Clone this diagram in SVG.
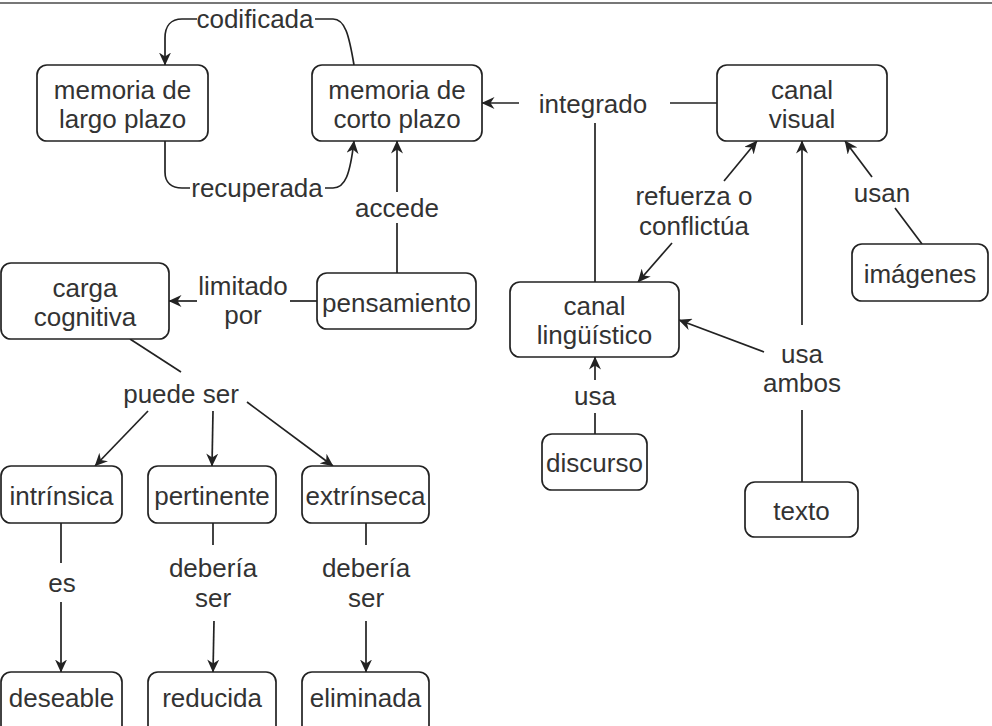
<svg xmlns="http://www.w3.org/2000/svg" width="992" height="726" viewBox="0 0 992 726">
<style>
.n rect{fill:#fff;stroke:#222;stroke-width:1.7}
text{font-family:"Liberation Sans",Arial,sans-serif;font-size:26px;fill:#333;text-anchor:middle}
.c path{fill:none;stroke:#222;stroke-width:1.7}
.c path.a{marker-end:url(#ah)}
</style>
<defs>
<marker id="ah" markerUnits="userSpaceOnUse" viewBox="0 0 13 12" refX="12.5" refY="6" markerWidth="13" markerHeight="12" orient="auto">
<path d="M0,0 L13,6 L0,12 L4,6 Z" fill="#222"/>
</marker>
</defs>
<rect x="0" y="2" width="992" height="2" fill="#777"/>
<g class="c" id="connectors">
<path class="a" d="M197,19 L182,19 C171,19 165,26 165,38 L165,65"/>
<path d="M315,19 L333,19 C345,19 349,35 354,65"/>
<path d="M165,141 L165,172 C165,183 172,188 182,188 L190,188"/>
<path class="a" d="M325,188 L333,188 C345,188 350,175 354,141"/>
<path d="M397,273 L397,223"/>
<path class="a" d="M397,192 L397,141"/>
<path d="M317,301 L290,301"/>
<path class="a" d="M197,301 L169,301"/>
<path d="M717,103 L670,103"/>
<path class="a" d="M519,103 L482,103"/>
<path d="M595,282 L595,123"/>
<path class="a" d="M724,181 L757,141"/>
<path class="a" d="M672,243 L638,282"/>
<path d="M922,244 L895,208"/>
<path class="a" d="M872,177 L845,141"/>
<path d="M802,482 L802,410"/>
<path class="a" d="M802,325 L802,141"/>
<path class="a" d="M764,352 L679,320"/>
<path d="M595,434 L595,413"/>
<path class="a" d="M595,380 L595,357"/>
<path d="M130,339 L181,372"/>
<path class="a" d="M148,411 L95,466"/>
<path class="a" d="M213,411 L212,466"/>
<path class="a" d="M247,402 L333,466"/>
<path d="M61,523 L61,563"/>
<path class="a" d="M61,602 L61,672"/>
<path d="M213,523 L213,545"/>
<path class="a" d="M214,621 L213,672"/>
<path d="M366,523 L366,545"/>
<path class="a" d="M366,621 L366,672"/>
</g>
<g id="labels">
<text x="255" y="28">codificada</text>
<text x="257" y="197">recuperada</text>
<text x="397" y="217">accede</text>
<text x="593" y="113">integrado</text>
<text x="243" y="295">limitado</text>
<text x="243" y="324">por</text>
<text x="181" y="403">puede ser</text>
<text x="62" y="592">es</text>
<text x="213" y="577">debería</text>
<text x="213" y="607">ser</text>
<text x="366" y="577">debería</text>
<text x="366" y="607">ser</text>
<text x="694" y="205">refuerza o</text>
<text x="694" y="235">conflictúa</text>
<text x="882" y="202">usan</text>
<text x="802" y="363">usa</text>
<text x="802" y="392">ambos</text>
<text x="595" y="405">usa</text>
</g>
<g class="n" id="n-largo"><rect x="37" y="65" width="171" height="76" rx="10"/><text x="122.5" y="98.5">memoria de</text><text x="122.5" y="127.5">largo plazo</text></g>
<g class="n" id="n-corto"><rect x="312" y="65" width="170" height="76" rx="10"/><text x="397" y="98.5">memoria de</text><text x="397" y="127.5">corto plazo</text></g>
<g class="n" id="n-visual"><rect x="717" y="65" width="170" height="76" rx="10"/><text x="802" y="98.5">canal</text><text x="802" y="127.5">visual</text></g>
<g class="n" id="n-carga"><rect x="1" y="263" width="168" height="76" rx="10"/><text x="85" y="296.5">carga</text><text x="85" y="325.5">cognitiva</text></g>
<g class="n" id="n-pensamiento"><rect x="317" y="273" width="159" height="56" rx="10"/><text x="396.5" y="312">pensamiento</text></g>
<g class="n" id="n-linguistico"><rect x="510" y="282" width="169" height="75" rx="10"/><text x="594.5" y="315">canal</text><text x="594.5" y="344">lingüístico</text></g>
<g class="n" id="n-imagenes"><rect x="852" y="244" width="136" height="57" rx="10"/><text x="920" y="283">imágenes</text></g>
<g class="n" id="n-discurso"><rect x="542" y="434" width="105" height="56" rx="10"/><text x="594.5" y="472">discurso</text></g>
<g class="n" id="n-texto"><rect x="745" y="482" width="113" height="55" rx="10"/><text x="801.5" y="520">texto</text></g>
<g class="n" id="n-intrinsica"><rect x="1" y="466" width="121" height="57" rx="10"/><text x="61.5" y="505">intrínsica</text></g>
<g class="n" id="n-pertinente"><rect x="148" y="466" width="128" height="57" rx="10"/><text x="212" y="505">pertinente</text></g>
<g class="n" id="n-extrinseca"><rect x="302" y="466" width="127" height="57" rx="10"/><text x="365.5" y="505">extrínseca</text></g>
<g class="n" id="n-deseable"><rect x="1" y="672" width="121" height="70" rx="10"/><text x="61.5" y="707">deseable</text></g>
<g class="n" id="n-reducida"><rect x="148" y="672" width="128" height="70" rx="10"/><text x="212" y="707">reducida</text></g>
<g class="n" id="n-eliminada"><rect x="302" y="672" width="127" height="70" rx="10"/><text x="365.5" y="707">eliminada</text></g>
</svg>
